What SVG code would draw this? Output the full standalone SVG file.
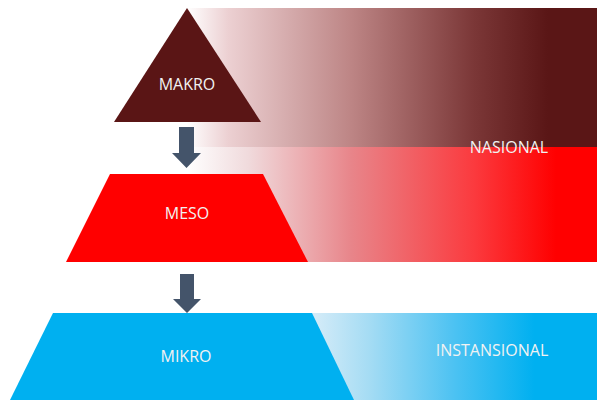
<svg xmlns="http://www.w3.org/2000/svg" width="597" height="401" viewBox="0 0 597 401">
<defs>
<linearGradient id="gMaroon" x1="0" y1="0" x2="1" y2="0">
<stop offset="0" stop-color="#ffffff"/>
<stop offset="0.1" stop-color="#ecd0d2"/>
<stop offset="0.4" stop-color="#bd8585"/>
<stop offset="0.7" stop-color="#7b3737"/>
<stop offset="0.88" stop-color="#5a1616"/>
<stop offset="1" stop-color="#5a1616"/>
</linearGradient>
<linearGradient id="gRed" x1="0" y1="0" x2="1" y2="0">
<stop offset="0" stop-color="#ffffff"/>
<stop offset="0.15" stop-color="#f0dadc"/>
<stop offset="0.4" stop-color="#e8858a"/>
<stop offset="0.7" stop-color="#fb3a3e"/>
<stop offset="0.9" stop-color="#ff0000"/>
<stop offset="1" stop-color="#ff0000"/>
</linearGradient>
<linearGradient id="gBlue" x1="0" y1="0" x2="1" y2="0">
<stop offset="0" stop-color="#d6ecf8"/>
<stop offset="0.2" stop-color="#a5dcf4"/>
<stop offset="0.5" stop-color="#4cc2f2"/>
<stop offset="0.78" stop-color="#00b0f0"/>
<stop offset="1" stop-color="#00b0f0"/>
</linearGradient>
<style>
.lbl{font-family:"Open Sans","Liberation Sans",sans-serif;font-size:16px;fill:#f2f2f2;}
.arrow{fill:#44546a;}
</style>
</defs>
<rect width="597" height="401" fill="#ffffff"/>
<g id="bands">
<rect x="187" y="8" width="410" height="139" fill="url(#gMaroon)"/>
<rect x="187" y="147" width="410" height="115" fill="url(#gRed)"/>
<rect x="312" y="313" width="285" height="87" fill="url(#gBlue)"/>
</g>
<g id="makro">
<polygon points="187,8 261,122 114,122" fill="#5a1515"/>
<text class="lbl" x="187" y="90" text-anchor="middle">MAKRO</text>
</g>
<g id="meso">
<polygon points="110,174 263,174 308,262 66,262" fill="#ff0000"/>
<text class="lbl" x="187" y="219" text-anchor="middle">MESO</text>
</g>
<g id="mikro">
<polygon points="53,313 312,313 354,400 10,400" fill="#00b0f0"/>
<text class="lbl" x="186" y="362" text-anchor="middle">MIKRO</text>
</g>
<g id="nasional">
<text class="lbl" x="509" y="153" text-anchor="middle">NASIONAL</text>
</g>
<g id="instansional">
<text class="lbl" x="492" y="356" text-anchor="middle">INSTANSIONAL</text>
</g>
<g id="connectors">
<polygon class="arrow" points="179,127 194,127 194,153 201,153 186.5,168 172,153 179,153"/>
<polygon class="arrow" points="180,274 194,274 194,299 201,299 187,313 173,299 180,299"/>
</g>
</svg>
